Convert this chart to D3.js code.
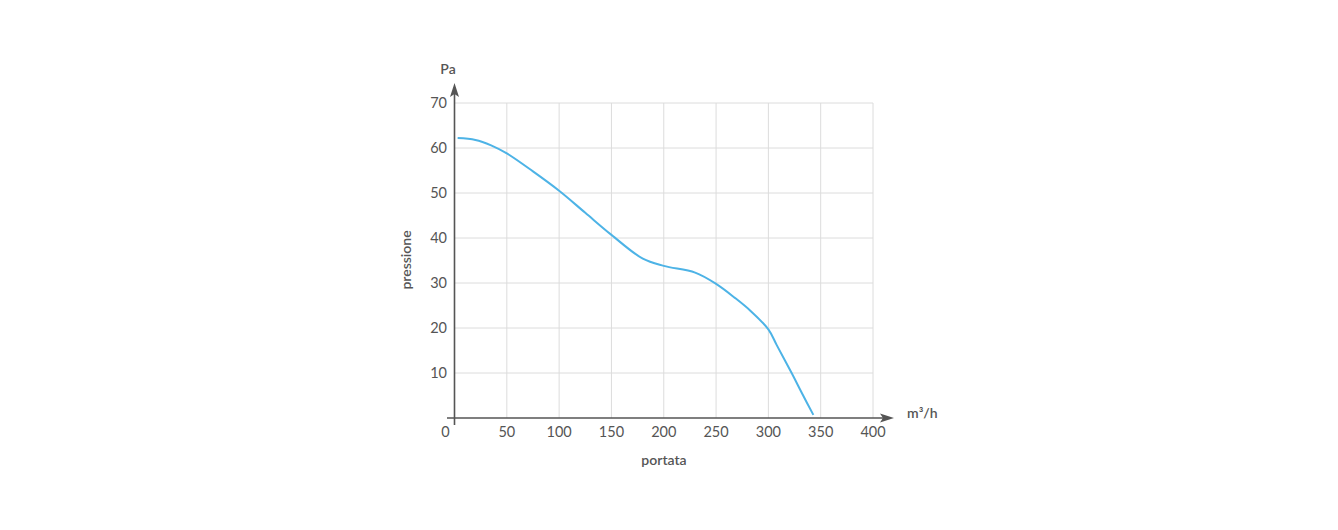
<!DOCTYPE html>
<html><head><meta charset="utf-8">
<script src="https://cdn.jsdelivr.net/npm/d3@7/dist/d3.min.js"></script>
<style>
body{margin:0;background:#fff;}
svg text{font-family:"Lato","Open Sans",sans-serif;fill:#555;}
</style></head>
<body><svg id="c" width="1338" height="530"></svg>
<script>
const flowValues = [3, 20, 35, 50, 75, 100, 125, 150, 180, 200, 230, 250, 268, 283, 300, 308, 322, 333, 343];
const pressureValues = [62.2, 61.8, 60.6, 58.8, 54.8, 50.5, 45.6, 40.7, 35.4, 33.8, 32.3, 29.8, 26.7, 23.8, 19.7, 16.2, 10.1, 5.1, 0.7];
const xTicks = [0, 50, 100, 150, 200, 250, 300, 350, 400];
const yTicks = [10, 20, 30, 40, 50, 60, 70];
const xLabel = "portata";
const yLabel = "pressione";
const xUnit = "m³/h";
const yUnit = "Pa";

const svg = d3.select("#c");
const x = d3.scaleLinear().domain([0, 400]).range([454.5, 873]);
const y = d3.scaleLinear().domain([0, 70]).range([418, 103]);

// grid
svg.append("g").selectAll("line").data(xTicks.slice(1)).join("line")
  .attr("x1", d => x(d)).attr("x2", d => x(d)).attr("y1", y(70)).attr("y2", y(0))
  .attr("stroke", "#dcdcdc").attr("stroke-width", 1);
svg.append("g").selectAll("line").data(yTicks).join("line")
  .attr("x1", x(0)).attr("x2", x(400)).attr("y1", d => y(d)).attr("y2", d => y(d))
  .attr("stroke", "#dcdcdc").attr("stroke-width", 1);

// axes
const ax = "#555";
svg.append("line").attr("x1", 447).attr("x2", 885).attr("y1", y(0)).attr("y2", y(0))
  .attr("stroke", ax).attr("stroke-width", 1.6);
svg.append("path").attr("d", `M894,${y(0)} L880,${y(0)-4.5} L883,${y(0)} L880,${y(0)+4.5} Z`).attr("fill", ax);
svg.append("line").attr("x1", x(0)).attr("x2", x(0)).attr("y1", 425).attr("y2", 92)
  .attr("stroke", ax).attr("stroke-width", 1.6);
svg.append("path").attr("d", `M${x(0)},83 L${x(0)-4.5},97 L${x(0)},94 L${x(0)+4.5},97 Z`).attr("fill", ax);

// tick labels
svg.append("g").selectAll("text").data(xTicks).join("text")
  .attr("x", d => d === 0 ? x(d) - 9 : x(d)).attr("y", 437)
  .attr("text-anchor", "middle").attr("font-size", 14.5).text(d => d);
svg.append("g").selectAll("text").data(yTicks).join("text")
  .attr("x", 447).attr("y", d => y(d) + 5)
  .attr("text-anchor", "end").attr("font-size", 14.5).text(d => d);

// labels
svg.append("text").attr("x", 448).attr("y", 74).attr("text-anchor", "middle")
  .attr("font-size", 14).attr("font-weight", 600).text(yUnit);
svg.append("text").attr("x", 907).attr("y", 418).attr("font-size", 14)
  .attr("font-weight", 600).text(xUnit);
svg.append("text").attr("x", 664).attr("y", 465).attr("text-anchor", "middle")
  .attr("font-size", 14).attr("font-weight", 600).text(xLabel);
svg.append("text").attr("transform", "translate(411,260) rotate(-90)")
  .attr("text-anchor", "middle").attr("font-size", 14).attr("font-weight", 600).text(yLabel);

// curve
const data = flowValues.map((v, i) => [v, pressureValues[i]]);
svg.append("path").datum(data)
  .attr("d", d3.line().x(d => x(d[0])).y(d => y(d[1])).curve(d3.curveCatmullRom.alpha(0.5)))
  .attr("fill", "none").attr("stroke", "#4db3e6").attr("stroke-width", 2);
</script></body></html>
